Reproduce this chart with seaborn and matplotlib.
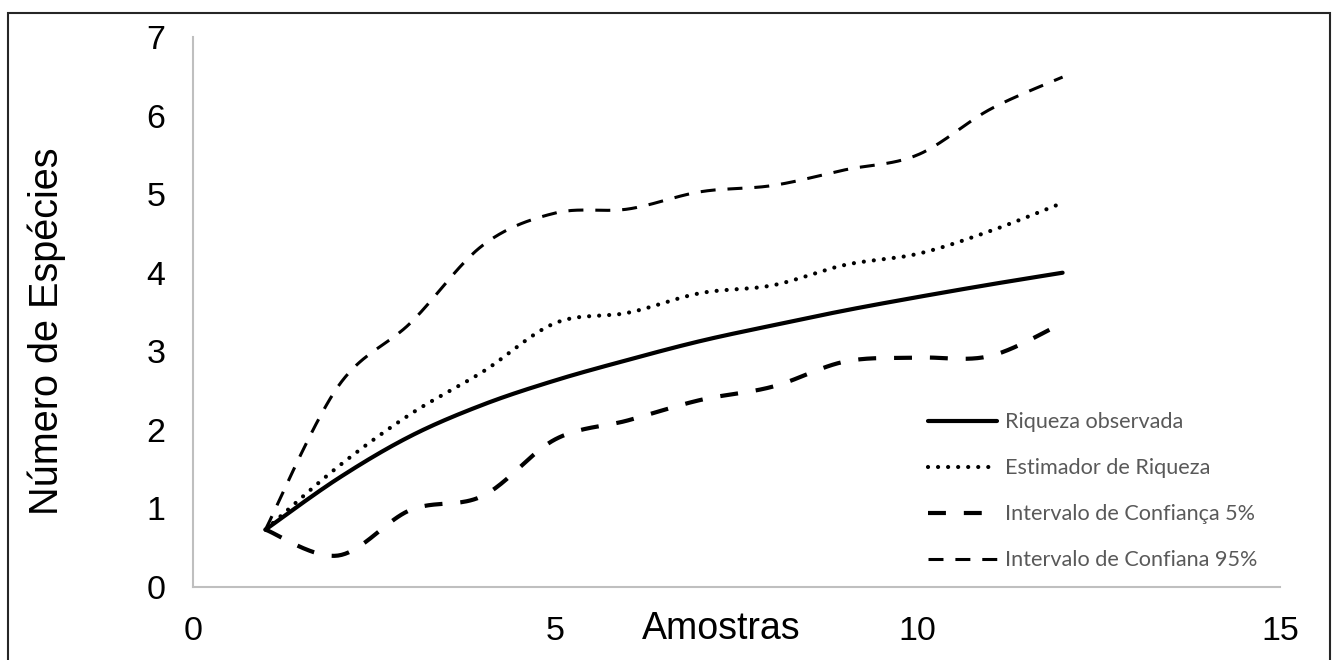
import numpy as np
import pandas as pd
import matplotlib
matplotlib.use("Agg")
import matplotlib.pyplot as plt
import seaborn as sns
from matplotlib.patches import Rectangle

# Curva de acumulação de espécies
amostras = [1, 2, 3, 4, 5, 6, 7, 8, 9, 10, 11, 12]
riqueza_observada = [0.73, 1.38, 1.92, 2.32, 2.63, 2.89, 3.13, 3.33, 3.52, 3.69, 3.85, 4.00]
estimador_riqueza = [0.73, 1.53, 2.20, 2.74, 3.36, 3.49, 3.74, 3.84, 4.10, 4.24, 4.53, 4.89]
ic_5 = [0.73, 0.40, 0.98, 1.16, 1.88, 2.12, 2.38, 2.55, 2.87, 2.92, 2.94, 3.36]
ic_95 = [0.73, 2.55, 3.36, 4.35, 4.76, 4.81, 5.03, 5.11, 5.31, 5.50, 6.08, 6.49]

rotulos = ["Riqueza observada", "Estimador de Riqueza",
           "Intervalo de Confiança 5%", "Intervalo de Confiana 95%"]
x_ticks = [0, 5, 10, 15]
y_ticks = [0, 1, 2, 3, 4, 5, 6, 7]


def suavizar(x, y, n=40):
    """Smoothed line through the points (cubic Bezier, Catmull-Rom style)."""
    x = np.asarray(x, float)
    y = np.asarray(y, float)
    xs, ys = [x[0]], [y[0]]
    m = len(x)
    t = np.linspace(0, 1, n + 1)[1:]
    for i in range(m - 1):
        x0, y0 = (x[i - 1], y[i - 1]) if i > 0 else (x[i], y[i])
        x3, y3 = (x[i + 2], y[i + 2]) if i + 2 < m else (x[i + 1], y[i + 1])
        c1x, c1y = x[i] + (x[i + 1] - x0) / 6, y[i] + (y[i + 1] - y0) / 6
        c2x, c2y = x[i + 1] - (x3 - x[i]) / 6, y[i + 1] - (y3 - y[i]) / 6
        b0, b1, b2, b3 = (1 - t) ** 3, 3 * (1 - t) ** 2 * t, 3 * (1 - t) * t ** 2, t ** 3
        xs.extend(b0 * x[i] + b1 * c1x + b2 * c2x + b3 * x[i + 1])
        ys.extend(b0 * y[i] + b1 * c1y + b2 * c2y + b3 * y[i + 1])
    return np.array(xs), np.array(ys)


sns.set_style("white")
plt.rcParams["font.family"] = ["Liberation Sans", "DejaVu Sans"]

fig = plt.figure(figsize=(13.35, 6.6), dpi=100)
ax = fig.add_axes([193 / 1335, 1 - 587 / 660, (1280 - 193) / 1335, (587 - 37) / 660])

estilos = [
    dict(lw=3.0, linestyle="-", solid_capstyle="round"),
    dict(lw=3.0, linestyle=(0, (0.01, 2.4)), dash_capstyle="round"),
    dict(lw=3.0, linestyle=(0, (4.3, 4.3)), dash_capstyle="butt"),
    dict(lw=2.2, linestyle=(0, (4.9, 3.9)), dash_capstyle="butt"),
]

for serie, rotulo, estilo in zip([riqueza_observada, estimador_riqueza, ic_5, ic_95], rotulos, estilos):
    xs, ys = suavizar(amostras, serie)
    sns.lineplot(x=xs, y=ys, ax=ax, color="black", label=rotulo,
                 estimator=None, sort=False, **estilo)

ax.set_xlim(0, 15)
ax.set_ylim(0, 7)
ax.set_xticks(x_ticks)
ax.set_yticks(y_ticks)
ax.tick_params(axis="both", length=0, labelsize=24.5, colors="black")
ax.tick_params(axis="x", pad=21)
ax.tick_params(axis="y", pad=20)

for lado in ["top", "right"]:
    ax.spines[lado].set_visible(False)
for lado in ["left", "bottom"]:
    ax.spines[lado].set_color("#BFBFBF")
    ax.spines[lado].set_linewidth(1.5)

ax.set_xlabel("Amostras", fontsize=27, color="black")
ax.set_ylabel("Número de Espécies", fontsize=28.5, color="black")
ax.xaxis.set_label_coords((721 - 193) / 1087, -0.043)
ax.yaxis.set_label_coords(-0.117, 0.465)

leg = ax.legend(loc="upper left", bbox_to_anchor=(0.676, 0.318), frameon=False,
                borderpad=0, borderaxespad=0, handlelength=3.2, handletextpad=0.38,
                labelspacing=1.2, prop={"family": "Lato", "size": 15.6})
for txt in leg.get_texts():
    txt.set_color("#595959")

fig.patches.append(Rectangle((8 / 1335, -0.05), (1330 - 8) / 1335, 1 - 13 / 660 + 0.05,
                             transform=fig.transFigure, fill=False,
                             edgecolor="#262626", linewidth=1.5))

fig.savefig("out.png", dpi=100)
